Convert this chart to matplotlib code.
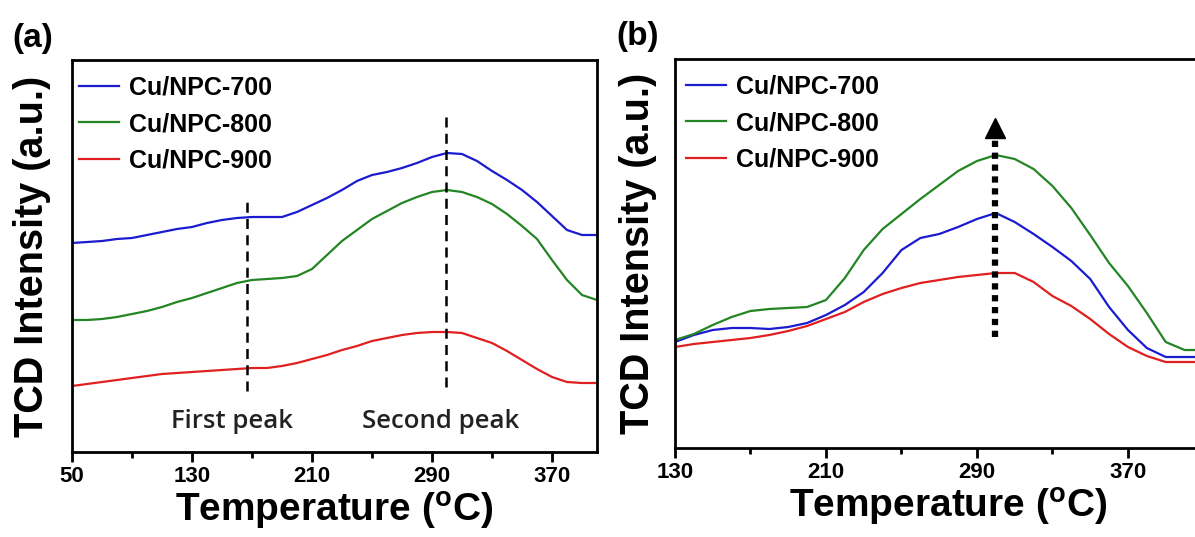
import matplotlib
matplotlib.use("Agg")
import matplotlib.pyplot as plt

plt.rcParams['font.family'] = ['Liberation Sans', 'DejaVu Sans']
plt.rcParams['mathtext.fontset'] = 'custom'
plt.rcParams['mathtext.rm'] = 'Liberation Sans:bold'
plt.rcParams['mathtext.bf'] = 'Liberation Sans:bold'

# ---------------- data : panel (a) ----------------
temp_a = [50, 60, 70, 80, 90, 100, 110, 120, 130, 140, 150, 160, 170, 180, 190,
          200, 210, 220, 230, 240, 250, 260, 270, 280, 290, 300, 310, 320, 330,
          340, 350, 360, 370, 380, 390, 400]
a_700 = [209, 210, 211, 213, 214, 217, 220, 223, 225, 229, 232, 234, 235, 235, 235,
         240, 247, 254, 262, 271, 277, 280, 284, 289, 295, 299, 298, 291, 281,
         272, 262, 250, 236, 222, 217, 217]
a_800 = [132, 132, 133, 135, 138, 141, 145, 150, 154, 159, 164, 169, 172, 173, 174,
         176, 183, 197, 211, 222, 233, 241, 249, 255, 260, 262, 260, 255, 248,
         238, 226, 213, 192, 172, 157, 152]
a_900 = [66, 68, 70, 72, 74, 76, 78, 79, 80, 81, 82, 83, 84, 84, 86,
         89, 93, 97, 102, 106, 111, 114, 117, 119, 120, 120, 119, 114, 109,
         101, 92, 83, 75, 70, 69, 69]

# ---------------- data : panel (b) ----------------
temp_b = [130, 140, 150, 160, 170, 180, 190, 200, 210, 220, 230, 240, 250, 260,
          270, 280, 290, 300, 310, 320, 330, 340, 350, 360, 370, 380, 390, 400,
          410, 420]
b_700 = [106, 113, 118, 120, 120, 119, 121, 125, 133, 143, 156, 175, 198, 210,
         214, 221, 229, 235, 226, 214, 201, 187, 169, 141, 118, 100, 91, 91,
         91, 91]
b_800 = [108, 114, 123, 131, 137, 139, 140, 141, 148, 170, 198, 219, 234, 249,
         263, 277, 287, 293, 289, 279, 262, 240, 213, 185, 162, 135, 106, 98,
         98, 98]
b_900 = [101, 104, 106, 108, 110, 113, 117, 122, 129, 136, 146, 154, 160, 165,
         168, 171, 173, 175, 175, 166, 152, 142, 129, 114, 101, 92, 86, 86,
         86, 86]

labels = ['Cu/NPC-700', 'Cu/NPC-800', 'Cu/NPC-900']
colors = ['#1b1bd0', '#238523', '#e02020']

peaks_a = [166.4, 299.0]            # dashed markers in (a)
peaks_a_span = [(61, 251), (65, 339)]
peak_names = ['First peak', 'Second peak']
peak_text_x = [156.5, 296.0]
arrow_b_x = 299.5
arrow_b_span = (111, 318)

fig = plt.figure(figsize=(11.95, 5.37), dpi=100)
W, H = 1195.0, 537.0
axA = fig.add_axes([72 / W, (H - 452) / H, 525 / W, 392 / H])
axB = fig.add_axes([675 / W, (H - 448) / H, 546 / W, 389 / H])

for ax, t, series in [(axA, temp_a, [a_700, a_800, a_900]),
                      (axB, temp_b, [b_700, b_800, b_900])]:
    for y, c, lab in zip(series, colors, labels):
        ax.plot(t, y, color=c, lw=1.6, label=lab)

# panel a
axA.set_xlim(50, 400)
axA.set_ylim(0, 392)
axA.set_xticks([50, 130, 210, 290, 370])
axA.set_xticks([90, 170, 250, 330], minor=True)
for xp, (y0, y1) in zip(peaks_a, peaks_a_span):
    axA.vlines(xp, y0, y1, colors='k', linestyles=(0, (4, 2.5)), lw=1.8)
for tx, name in zip(peak_text_x, peak_names):
    axA.text(tx, 31, name, ha='center', va='center', fontsize=18.5,
             family='Open Sans', fontweight='semibold', color='#222222')

# panel b
axB.set_xlim(130, 419.3)
axB.set_ylim(0, 389)
axB.set_xticks([130, 210, 290, 370])
axB.set_xticks([170, 250, 330, 410], minor=True)
axB.vlines(arrow_b_x, arrow_b_span[0], arrow_b_span[1], colors='k',
           linestyles=(0, (1.0, 0.9)), lw=4.5)
axB.plot([arrow_b_x], [320], marker='^', ms=15, color='k', mec='k')

for ax, lx in ((axA, 0.013), (axB, 0.02)):
    ax.set_yticks([])
    for s in ax.spines.values():
        s.set_linewidth(2.0)
    ax.tick_params(axis='x', which='major', direction='out', length=7, width=2.0,
                   labelsize=16, pad=3)
    ax.tick_params(axis='x', which='minor', direction='out', length=4, width=2.0)
    for lb in ax.get_xticklabels():
        lb.set_fontweight('bold')
    ax.set_xlabel(r'Temperature ($^{\mathbf{o}}$C)', fontsize=28, fontweight='bold',
                  labelpad=2)
    ax.set_ylabel('TCD Intensity (a.u.)', fontsize=28.5, fontweight='bold')
    ax.legend(loc='upper left', frameon=False,
              prop={'weight': 'bold', 'size': 18},
              handlelength=1.6, handletextpad=0.4, labelspacing=0.5,
              borderpad=0, borderaxespad=0,
              bbox_to_anchor=(lx, 0.96))

axA.yaxis.set_label_coords(-0.040, 0.5)
axB.yaxis.set_label_coords(-0.033, 0.5)

fig.text(33 / W, 1 - 38 / H, '(a)', fontsize=24, fontweight='bold', ha='center', va='center')
fig.text(638 / W, 1 - 37 / H, '(b)', fontsize=24, fontweight='bold', ha='center', va='center')

fig.savefig('out.png', dpi=100)
